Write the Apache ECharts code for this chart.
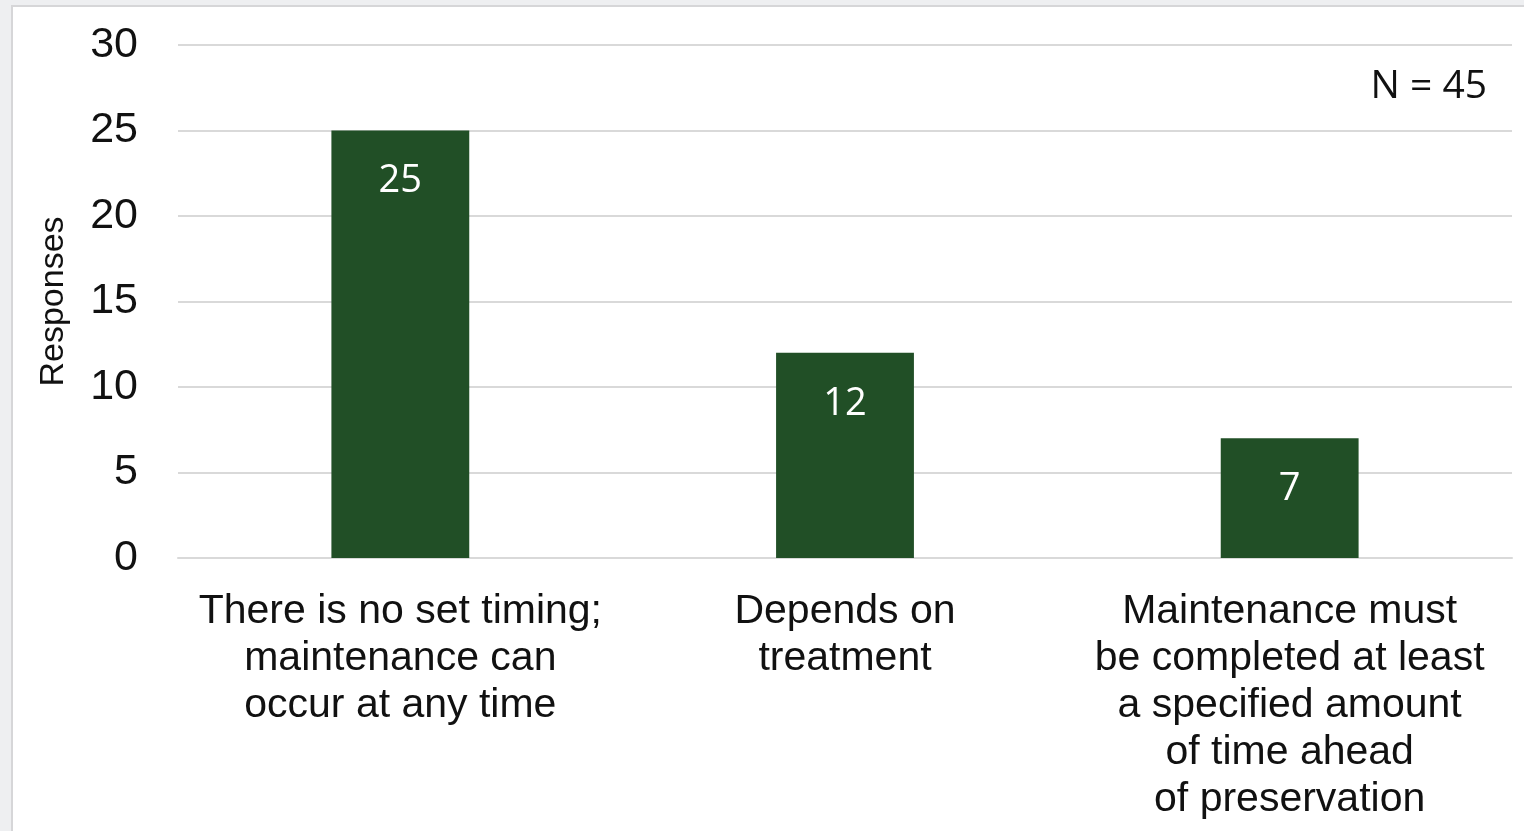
<!DOCTYPE html>
<html>
<head>
<meta charset="utf-8">
<script src="https://cdn.jsdelivr.net/npm/echarts@6/dist/echarts.min.js"></script>
<style>
  html, body { margin: 0; padding: 0; width: 1524px; height: 831px; overflow: hidden; background: #eeeff1; }
  #panel { position: absolute; left: 11px; top: 5px; width: 1530px; height: 840px; background: #ffffff; border-left: 2px solid #d6d6d8; border-top: 2px solid #d6d6d8; }
  #chart { position: absolute; left: 0; top: 0; width: 1524px; height: 831px; }
</style>
</head>
<body>
<div id="panel"></div>
<div id="chart"></div>
<script>
// Survey responses on when maintenance must be completed
const categories = [
  'There is no set timing;\nmaintenance can\noccur at any time',
  'Depends on\ntreatment',
  'Maintenance must\nbe completed at least\na specified amount\nof time ahead\nof preservation'
];
const responses = [25, 12, 7];
const yTicks = { min: 0, max: 30, interval: 5 };
const sampleNote = 'N = 45';
const yAxisTitle = 'Responses';

const chart = echarts.init(document.getElementById('chart'), null, { renderer: 'canvas' });

chart.setOption({
  backgroundColor: 'transparent',
  animation: false,
  grid: { left: 178, right: 12, top: 45, bottom: 273 },
  title: {
    text: sampleNote,
    right: 32,
    top: 62,
    textStyle: { fontFamily: 'Open Sans', fontSize: 39, fontWeight: 'normal', color: '#111111' }
  },
  xAxis: {
    type: 'category',
    data: categories,
    axisLine: { show: true, lineStyle: { color: '#d9d9d9', width: 2 } },
    axisTick: { show: false },
    axisLabel: {
      interval: 0,
      margin: 30,
      fontFamily: 'Liberation Sans, Arial, sans-serif',
      fontSize: 41,
      lineHeight: 47,
      color: '#111111',
      align: 'center'
    }
  },
  yAxis: {
    type: 'value',
    min: yTicks.min,
    max: yTicks.max,
    interval: yTicks.interval,
    name: yAxisTitle,
    nameLocation: 'middle',
    nameRotate: 90,
    nameGap: 107,
    nameTextStyle: { fontFamily: 'Liberation Sans, Arial, sans-serif', fontSize: 34, color: '#111111' },
    axisLine: { show: false },
    axisTick: { show: false },
    splitLine: { lineStyle: { color: '#d9d9d9', width: 2 } },
    axisLabel: {
      margin: 40,
      fontFamily: 'Liberation Sans, Arial, sans-serif',
      fontSize: 43,
      color: '#111111'
    }
  },
  series: [{
    type: 'bar',
    data: responses,
    barWidth: '31%',
    itemStyle: { color: '#214f26' },
    label: {
      show: true,
      position: 'insideTop',
      distance: 32,
      fontFamily: 'Open Sans',
      fontSize: 38,
      color: '#ffffff'
    }
  }]
});
</script>
</body>
</html>
